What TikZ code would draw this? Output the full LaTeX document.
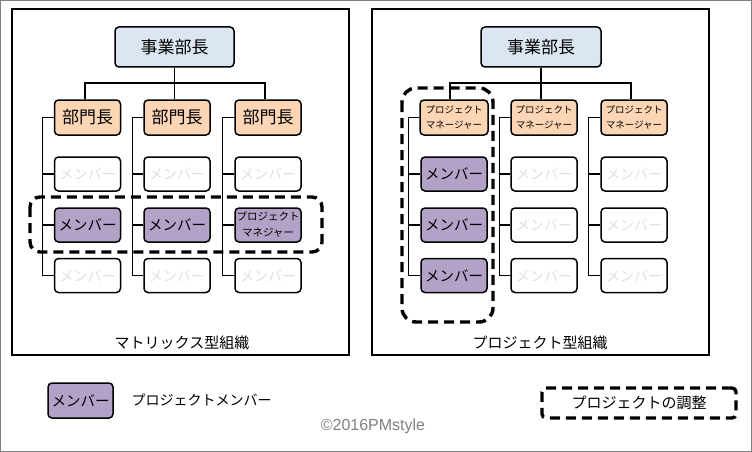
\documentclass[tikz,border=0pt]{standalone}
\usepackage{fontspec}
\setmainfont{Noto Sans CJK JP}
\newfontfamily\latinfont{Liberation Sans}
\definecolor{topblue}{HTML}{DCE6F2}
\definecolor{peach}{HTML}{FCD5B5}
\definecolor{purp}{HTML}{B3A2C7}
\begin{document}
\begin{tikzpicture}[x=1pt,y=-1pt,
  box/.style={draw, line width=1.5pt, rounded corners=4pt, inner sep=0pt, align=center, minimum width=66pt, minimum height=34pt},
  topbox/.style={box, fill=topblue, minimum width=119pt, minimum height=40pt, font=\fontsize{17}{20}\selectfont},
  headbox/.style={box, fill=peach, minimum height=35pt, font=\fontsize{17}{20}\selectfont},
  pmbox/.style={box, fill=peach, minimum height=35pt, font=\fontsize{9.5}{15.5}\selectfont},
  mem/.style={box, fill=white, text=black!12, font=\fontsize{14}{16}\selectfont},
  pmem/.style={box, fill=purp, font=\fontsize{14.5}{16}\selectfont},
  ppm/.style={box, fill=purp, font=\fontsize{10.5}{16}\selectfont},
  conn/.style={line width=1.4pt},
  adj/.style={draw, line width=3.4pt, dash pattern=on 10pt off 6pt},
  panel/.style={draw, line width=1.5pt},
  lbl/.style={font=\fontsize{15}{18}\selectfont}
]
\useasboundingbox (0,0) rectangle (752,452);
\draw[gray, line width=1.2pt] (0.6,0.6) rectangle (751.4,451.4);
% panels
\draw[panel] (12,9) rectangle (349,355);
\draw[panel] (372,9) rectangle (709,355);

% ---------- left panel ----------
\node[topbox] (lt) at (174.5,47) {事業部長};
\node[headbox] (lh1) at (87.5,117.5) {部門長};
\node[headbox] (lh2) at (177,117.5) {部門長};
\node[headbox] (lh3) at (268,117.5) {部門長};
\node[mem] (la1) at (87.5,174) {メンバー};
\node[mem] (lb1) at (177,174) {メンバー};
\node[mem] (lc1) at (268,174) {メンバー};
\node[pmem] (la2) at (87.5,225) {メンバー};
\node[pmem] (lb2) at (177,225) {メンバー};
\node[ppm] (lc2) at (268,225) {プロジェクト\\マネジャー};
\node[mem] (la3) at (87.5,275.5) {メンバー};
\node[mem] (lb3) at (177,275.5) {メンバー};
\node[mem] (lc3) at (268,275.5) {メンバー};
\coordinate (lbusL) at (85,83);
\coordinate (lbusR) at (265,83);
\draw[conn] (lh1.north -| lbusL) |- (lbusR) -- (lh3.north -| lbusR);
\draw[conn] (lt.south) -- (lt.south |- lh2.north);
\draw[conn] (lh1.west) -- ++(-11,0) |- (la3.west);
\draw[conn] (la1.west) -- ++(-11,0);
\draw[conn] (la2.west) -- ++(-11,0);
\draw[conn] (lh2.west) -- ++(-11,0) |- (lb3.west);
\draw[conn] (lb1.west) -- ++(-11,0);
\draw[conn] (lb2.west) -- ++(-11,0);
\draw[conn] (lh3.west) -- ++(-12,0) |- (lc3.west);
\draw[conn] (lc1.west) -- ++(-12,0);
\draw[conn] (lc2.west) -- ++(-12,0);
\draw[adj, rounded corners=10pt] (30,197) rectangle (322,252);
\node[lbl] (llab) at (182,343) {マトリックス型組織};

% ---------- right panel ----------
\node[topbox, minimum width=120pt] (rt) at (541,47) {事業部長};
\node[pmbox, minimum width=68pt] (rh1) at (454,117.5) {プロジェクト\\マネージャー};
\node[pmbox] (rh2) at (544,117.5) {プロジェクト\\マネージャー};
\node[pmbox] (rh3) at (634,117.5) {プロジェクト\\マネージャー};
\node[pmem] (ra1) at (454,174) {メンバー};
\node[mem] (rb1) at (544,174) {メンバー};
\node[mem] (rc1) at (634,174) {メンバー};
\node[pmem] (ra2) at (454,225) {メンバー};
\node[mem] (rb2) at (544,225) {メンバー};
\node[mem] (rc2) at (634,225) {メンバー};
\node[pmem] (ra3) at (454,275.5) {メンバー};
\node[mem] (rb3) at (544,275.5) {メンバー};
\node[mem] (rc3) at (634,275.5) {メンバー};
\coordinate (rbusL) at (450,83);
\coordinate (rbusR) at (631,83);
\draw[conn] (rt.south) -- (rt.south |- rh2.north);
\draw[conn] (rh1.north -| rbusL) |- (rbusR) -- (rh3.north -| rbusR);
\draw[conn] (rh1.west) -- ++(-11,0) |- (ra3.west);
\draw[conn] (ra1.west) -- ++(-11,0);
\draw[conn] (ra2.west) -- ++(-11,0);
\draw[conn] (rh2.west) -- ++(-11,0) |- (rb3.west);
\draw[conn] (rb1.west) -- ++(-11,0);
\draw[conn] (rb2.west) -- ++(-11,0);
\draw[conn] (rh3.west) -- ++(-12,0) |- (rc3.west);
\draw[conn] (rc1.west) -- ++(-12,0);
\draw[conn] (rc2.west) -- ++(-12,0);
\draw[adj, rounded corners=14pt] (402,88) rectangle (493,322);
\node[lbl] (rlab) at (540,343) {プロジェクト型組織};

% ---------- legend ----------
\node[pmem, minimum width=65pt, minimum height=35pt] (lgm) at (80.5,400.5) {メンバー};
\node[anchor=west, font=\fontsize{14}{16}\selectfont] (lgmt) at (128,400) {プロジェクトメンバー};
\node[text=gray, font=\latinfont\fontsize{16}{18}\selectfont] (copy) at (373,426) {©2016PMstyle};
\node[adj, rounded corners=4pt, minimum width=194pt, minimum height=30pt, font=\fontsize{15}{18}\selectfont] (lga) at (639,403) {プロジェクトの調整};
\end{tikzpicture}
\end{document}
